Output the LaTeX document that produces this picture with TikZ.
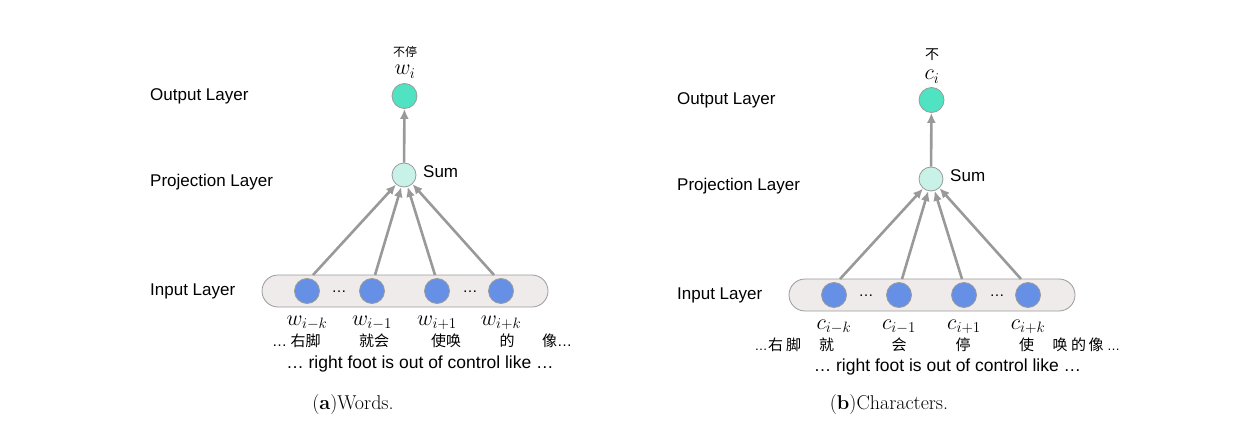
\RequirePackage{fix-cm}
\documentclass[tikz,border=0pt]{standalone}
\usepackage{fontspec}
\setsansfont{Liberation Sans}
\newfontfamily\cjk{Noto Sans CJK SC}
\usetikzlibrary{arrows.meta}
\DeclareMathSizes{22}{22}{15}{11}
\definecolor{outgreen}{HTML}{50E3C2}
\definecolor{sumgreen}{HTML}{C8F2E7}
\definecolor{inblue}{HTML}{6690E6}
\definecolor{boxgray}{HTML}{EFEBEB}
\definecolor{edgegray}{HTML}{9A9A9A}
\definecolor{arrowgray}{HTML}{999999}

\tikzset{
  layer/.style={anchor=west, inner sep=0pt, font=\sffamily\fontsize{17}{20}\selectfont},
  unit/.style={circle, draw=edgegray, line width=0.8pt, minimum size=25pt, inner sep=0pt},
  conn/.style={draw=arrowgray, line width=2.6pt, -{Latex[length=10pt,width=9pt]}},
  mathlbl/.style={anchor=base, inner sep=0pt, font=\fontsize{22}{26}\selectfont},
  zh/.style={anchor=base, inner sep=0pt, font=\cjk\fontsize{15}{17}\selectfont},
  txt/.style={inner sep=0pt, font=\sffamily\fontsize{17}{20}\selectfont},
  caption/.style={inner sep=0pt, font=\fontsize{20}{24}\selectfont},
}

\begin{document}
\begin{tikzpicture}[x=1pt, y=-1pt]
  \useasboundingbox (0,0) rectangle (1259,433);

  % the network, once per panel
  \foreach \dx/\dy/\p in {0/0/a, 527/4/b}{
    \begin{scope}[shift={(\dx,\dy)}]
      \node[layer] (outlbl\p) at (150,96) {Output Layer};
      \node[layer] (projlbl\p) at (150,182) {Projection Layer};
      \node[layer] (inlbl\p) at (150,291) {Input Layer};

      \node[unit, fill=outgreen] (out\p) at (404.5,96) {};
      \node[unit, fill=sumgreen, minimum size=24pt] (sum\p) at (404,175) {};
      \node[txt, anchor=west] (sumlbl\p) at (423,172) {Sum};

      \node[draw=edgegray, fill=boxgray, line width=0.8pt, rounded corners=16pt,
            minimum width=286pt, minimum height=32pt] (box\p) at (405,291) {};
      \foreach \x [count=\i] in {307,372,437,501}
        \node[unit, fill=inblue] (in\i\p) at (\x,291) {};
      \node[txt, font=\sffamily\fontsize{15}{17}\selectfont] (dotsl\p) at (339,292) {…};
      \node[txt, font=\sffamily\fontsize{15}{17}\selectfont] (dotsr\p) at (470,292) {…};

      \foreach \x/\ang [count=\i] in {313/230, 375/257, 435/287, 494/313}{
        \coordinate (s\i\p) at (\x,275);
        \draw[conn] (s\i\p) -- (sum\p.\ang);
      }
      \draw[conn] (sum\p) -- (out\p);
    \end{scope}
  }

  % (a) words
  \node[zh, font=\cjk\fontsize{12}{14}\selectfont] (topzha) at (405,57) {不停};
  \node[mathlbl] (topma) at (405,75) {$w_i$};
  \foreach \x/\s [count=\i] in {307/i-k, 372/i-1, 437/i+1, 501/i+k}
    \node[mathlbl] (wlbl\i) at (\x,325) {$w_{\s}$};
  \node[zh, anchor=base west] (zha1) at (272,346.5) {{\sffamily…} 右脚};
  \node[zh] (zha2) at (374,346.5) {就会};
  \node[zh] (zha3) at (446,346.5) {使唤};
  \node[zh] (zha4) at (507,346.5) {的};
  \node[zh, anchor=base west] (zha5) at (542,346.5) {像{\sffamily…}};
  \node[txt, font=\sffamily\fontsize{17.5}{20}\selectfont] (ena) at (420,364) {… right foot is out of control like …};
  \node[caption] (capa) at (353,405) {(\textbf{a})Words.};

  % (b) characters
  \node[zh, font=\cjk\fontsize{14}{16}\selectfont] (topzhb) at (932,60) {不};
  \node[mathlbl] (topmb) at (932,80) {$c_i$};
  \foreach \x/\s [count=\i] in {834/i-k, 899/i-1, 964/i+1, 1028/i+k}
    \node[mathlbl] (clbl\i) at (\x,329) {$c_{\s}$};
  \node[txt, anchor=base, font=\sffamily\fontsize{13}{15}\selectfont] (zhb0) at (761,350.5) {…};
  \foreach \x/\ch [count=\i] in {775.5/右, 793.5/脚, 826.5/就, 899/会, 963/停,
                                 1026.5/使, 1060/唤, 1078.5/的, 1096/像}
    \node[zh] (zhb\i) at (\x,350.5) {\ch};
  \node[txt, anchor=base, font=\sffamily\fontsize{13}{15}\selectfont] (zhbe) at (1113.5,350.5) {…};
  \node[txt, font=\sffamily\fontsize{17.5}{20}\selectfont] (enb) at (947.5,367) {… right foot is out of control like …};
  \node[caption] (capb) at (889,405) {(\textbf{b})Characters.};
\end{tikzpicture}
\end{document}
